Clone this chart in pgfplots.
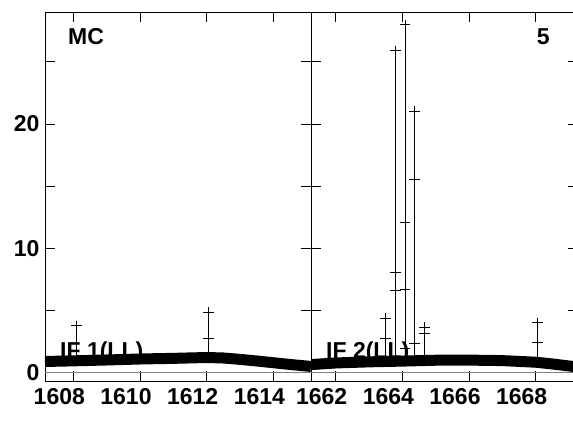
\documentclass[border=0pt]{standalone}
\usepackage{pgfplots}
\pgfplotsset{compat=1.18}
\usepackage{fontspec}
\setmainfont{Liberation Sans}
\newcommand{\lf}{\fontsize{23bp}{27bp}\selectfont\bfseries}
\begin{document}
\begin{tikzpicture}
\useasboundingbox (-45bp,-53bp) rectangle (528bp,381bp);
\pgfplotsset{
  panel/.style={
    scale only axis, height=369bp,
    ymin=-0.67, ymax=29.0,
    ytick={0,5,10,15,20,25},
    tick align=inside,
    major tick length=10bp,
    axis line style={black, line width=0.8bp},
    every tick/.style={black, line width=0.8bp},
    tick label style={font=\lf},
    /pgf/number format/assume math mode=true,
    /pgf/number format/1000 sep={},
    xticklabels={},
    extra x tick style={major tick length=0pt, xticklabel style={yshift=-4bp, font=\lf}},
    yticklabel style={xshift=-2bp},
    clip=true,
  },
  band/.style={black, line width=11bp, no marks, line join=round},
  spike/.style={black, line width=1bp, no marks, unbounded coords=jump},
  pluses/.style={black, only marks, mark=+, mark size=5.3bp, mark options={line width=1bp}},
}
% ---------------- left panel ----------------
\begin{axis}[panel, width=266bp, at={(0,0)}, anchor=south west,
  xmin=1607.15, xmax=1615.13,
  xtick={1608,1610,1612,1614},
  extra x ticks={1607.58,1609.58,1611.58,1613.58},
  extra x tick labels={{\lf 1608},{\lf 1610},{\lf 1612},{\lf 1614}},
  yticklabels={{\lf 0},,{\lf 10},,{\lf 20},}]
\addplot[gray, line width=0.8bp, no marks] coordinates {(1607.15,0) (1615.13,0)};
\node[anchor=base west, inner sep=0pt, font=\lf] at (axis cs:1607.6,1.1) {IF 1(LL)};
\addplot[band] coordinates {
(1607.15,0.90) (1608,0.95) (1609,1.02) (1610,1.10) (1611,1.15) (1612,1.22)
(1612.5,1.18) (1613,1.07) (1613.5,0.94) (1614,0.80) (1614.5,0.66) (1615.13,0.50)};
\addplot[spike] coordinates {
(1608.10,1.0) (1608.10,3.76) (1608.10,nan)
(1612.06,1.2) (1612.06,4.83)};
\addplot[pluses] coordinates {(1608.10,3.76) (1612.06,4.83) (1612.06,2.71)};
\node[anchor=base west, inner sep=0pt, font=\lf] at (rel axis cs:0.0865,1) [yshift=-33bp] {MC};
\node[anchor=base, inner sep=0pt, font=\lf] at (rel axis cs:0.556,0) [yshift=-50bp] {FREQ MHz};
\end{axis}
% ---------------- right panel ----------------
\begin{axis}[panel, width=267bp, at={(266bp,0)}, anchor=south west,
  xmin=1661.26, xmax=1669.27,
  xtick={1662,1664,1666,1668},
  extra x ticks={1661.58,1663.58,1665.58,1667.58},
  extra x tick labels={{\lf 1662},{\lf 1664},{\lf 1666},{\lf 1668}},
  yticklabels={}]
\addplot[gray, line width=0.8bp, no marks] coordinates {(1661.26,0) (1669.27,0)};
\node[anchor=base west, inner sep=0pt, font=\lf] at (axis cs:1661.71,1.1) {IF 2(LL)};
\addplot[band] coordinates {
(1661.26,0.65) (1662,0.78) (1663,0.87) (1664,0.93) (1665,1.00) (1666,1.01)
(1667,0.97) (1668,0.84) (1668.5,0.70) (1669.27,0.45)};
\addplot[spike] coordinates {
(1663.50,0.9) (1663.50,4.38) (1663.50,nan)
(1663.79,0.9) (1663.79,25.87) (1663.79,nan)
(1664.08,0.9) (1664.08,27.96) (1664.08,nan)
(1664.36,0.9) (1664.36,20.99) (1664.36,nan)
(1664.66,0.9) (1664.66,3.62) (1664.66,nan)
(1668.05,0.8) (1668.05,4.00)};
\addplot[pluses] coordinates {
(1663.50,4.38) (1663.50,2.71)
(1663.79,25.87) (1663.79,8.05) (1663.79,6.57)
(1664.08,27.96) (1664.08,12.07) (1664.08,6.68) (1664.08,1.96)
(1664.36,20.99) (1664.36,15.56) (1664.36,2.37)
(1664.66,3.62) (1664.66,3.14)
(1668.05,4.00) (1668.05,2.45)};
\node[anchor=base east, inner sep=0pt, font=\lf] at (rel axis cs:0.895,1) [yshift=-33bp] {5};
\end{axis}
\end{tikzpicture}
\end{document}
